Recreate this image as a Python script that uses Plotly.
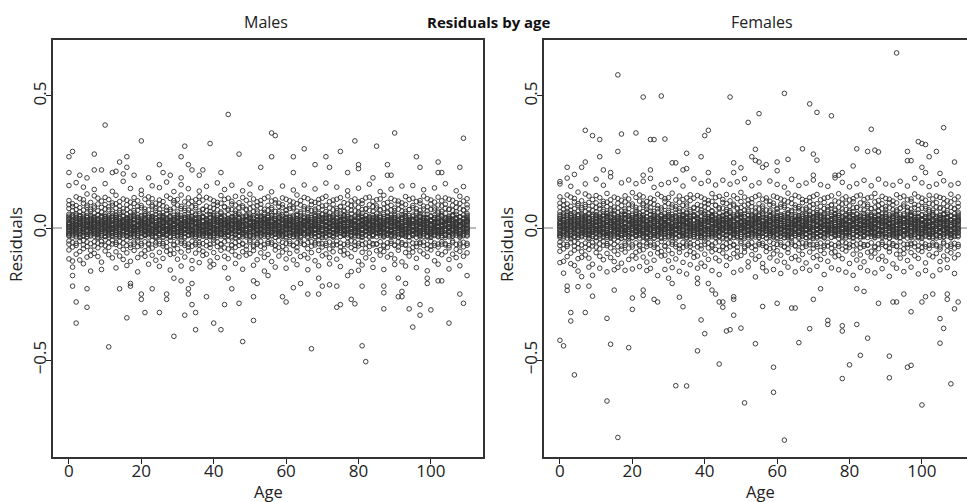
import plotly.graph_objects as go

# ---------------- data (residuals in thousandths, one string per age 0..110) ----------------
AGES = list(range(0, 111))

MALE_CORE = [
"12 -8 31 -22 45 3 -30 20 52 -61 74 -49 88 -83 104 -117 161",
"-3 25 -15 38 7 -27 49 16 -9 66 -55 81 -72 92 -125 -148",
"9 -19 28 -4 41 -33 18 54 -12 -58 70 -66 85 118 -99 172",
"1 16 -25 35 -11 47 24 -36 6 62 -50 77 -89 111 -121",
"-6 20 33 -18 44 10 -29 51 -2 -64 68 -47 94 -78 107 -135 155",
"14 -10 27 -24 40 4 -34 22 57 -53 79 -70 86 -110 129",
"5 -15 37 -7 29 -26 48 13 -1 71 -59 63 -84 97 -104 -163",
"-9 23 11 -31 42 2 -20 34 56 -52 83 -68 76 -96 122 146",
"17 -4 30 -23 50 8 -37 26 -13 -57 65 -75 91 -108 113",
"3 -21 24 -12 39 15 -28 46 -5 60 -63 78 -51 102 -129 -157",
"-7 19 36 -16 43 6 -32 27 53 -67 72 -45 89 -87 116 168",
"10 -11 22 -27 47 1 -35 32 -3 -55 69 -73 80 -101 108",
"-2 28 14 -19 38 -30 55 9 -14 64 -60 86 -48 95 -113 139",
"7 -24 33 -8 41 18 -26 49 -17 -62 75 -54 92 -90 124 -151",
"15 -6 26 -33 45 4 -21 37 58 -50 67 -69 83 -106 100",
"-10 21 31 -14 48 11 -38 24 2 73 -57 61 -81 110 -119 177",
"4 -17 39 -5 29 -29 52 16 -12 -66 70 -46 88 -94 105 -142",
"13 -2 23 -25 36 -35 46 7 -19 59 -64 79 -74 98 -126 150",
"-5 18 34 -10 44 -22 57 2 -31 -53 66 -61 93 -85 115",
"8 -13 27 -28 41 14 -37 50 -4 68 -49 82 -70 103 -112 -166",
"-1 25 12 -20 47 -32 35 20 -9 -59 77 -67 85 -98 127 143",
"16 -8 30 -15 38 5 -27 53 -23 62 -52 72 -86 109 -107",
"2 -20 41 -3 26 -34 49 19 -11 -63 69 -58 96 -80 118 -137",
"-8 14 32 -26 43 9 -18 28 55 -48 81 -76 87 -103 111 160",
"11 -5 22 -30 37 -13 51 3 -36 65 -56 74 -65 94 -122",
"-4 24 15 -21 45 -7 33 56 -29 -60 71 -50 90 -92 106 -145 153",
"6 -16 28 -9 40 21 -33 47 -1 58 -68 84 -59 100 -115",
"14 -3 36 -24 31 -12 54 8 -27 -54 67 -71 79 -88 121 174",
"-6 19 25 -17 44 1 -35 38 -10 70 -47 63 -83 112 -100 -159",
"9 -12 34 -2 29 -28 48 17 -20 -65 76 -62 95 -97 104 138",
"1 22 -14 40 -31 11 52 -7 27 61 -53 87 -78 108 -118",
"-9 16 29 -23 46 5 -16 35 -33 -58 73 -49 82 -91 125 -144 164",
"12 -1 24 -19 39 -37 50 14 -6 66 -66 75 -57 99 -110",
"-3 27 10 -29 42 -11 32 57 -24 -61 68 -72 92 -86 114 149",
"7 -18 37 -5 26 -25 45 20 -14 59 -50 80 -69 101 -123 -154",
"16 -7 21 -32 49 2 -22 33 53 -56 77 -63 85 -95 107",
"-2 23 31 -13 38 -27 55 6 -36 -64 64 -55 97 -82 119 -131 140",
"5 -15 26 -21 44 13 -30 41 -9 72 -59 70 -88 106 -104",
"-10 20 35 -4 28 -34 47 10 -18 -51 66 -67 83 -99 116 158",
"13 -9 23 -26 40 -15 51 3 -31 63 -62 78 -74 110 -125 -147",
"0 26 17 -18 45 -6 36 54 -28 -57 74 -46 89 -93 103 -138",
"8 -21 32 -10 30 22 -35 48 -3 69 -70 86 -53 97 -112 171",
"-5 14 38 -24 42 4 -19 27 56 -63 61 -60 94 -84 123",
"11 -4 20 -33 47 -12 33 16 -25 -52 79 -75 81 -107 108 -150 146",
"3 24 -16 36 -29 9 50 -8 28 67 -48 72 -79 113 -116",
"-7 17 29 -20 39 -1 -37 43 12 -66 70 -64 91 -88 101 162",
"15 -11 25 -27 46 6 -23 34 55 -55 65 -73 87 -102 120 -134",
"-1 21 13 -14 37 -32 52 19 -8 60 -51 76 -66 96 -109",
"6 -19 33 -6 27 -25 44 11 -17 -61 78 -58 84 -90 115 -156 141",
"12 -2 30 -28 41 -10 49 7 -34 71 -68 68 -81 105 -103",
"-4 23 16 -22 45 3 -30 35 53 -53 73 -47 93 -97 128 167",
"9 -13 38 -3 24 -36 47 18 -15 -65 62 -71 80 -85 110 -141",
"-8 27 20 -19 32 -11 56 1 -26 64 -56 85 -62 99 -120",
"14 -6 28 -31 43 8 -21 39 -1 -50 75 -69 90 -94 104 152",
"2 18 -12 35 -24 15 51 -9 30 59 -63 71 -76 112 -111 -163",
"-11 22 31 -16 40 -4 -33 46 10 -59 67 -52 86 -100 118",
"7 -17 24 -29 48 5 -18 27 57 70 -61 77 -54 102 -127 137",
"16 -1 36 -23 29 -35 44 12 -7 -67 63 -66 95 -83 107 -148",
"-3 25 9 -13 42 -27 53 21 -20 62 -48 82 -73 94 -106",
"4 -10 32 -25 38 14 -31 50 -4 -54 78 -70 88 -91 114 159",
"11 -22 19 -6 34 0 -37 28 55 66 -58 69 -80 109 -117 -152",
"-6 15 40 -18 45 -14 31 8 -28 -60 74 -51 84 -96 103",
"8 -8 23 -32 37 17 -24 48 -11 73 -65 79 -67 98 -121 144",
"-2 28 13 -21 47 2 -34 36 52 -56 64 -74 92 -87 125 -139",
"13 -14 26 -9 32 -29 54 6 -17 61 -49 87 -57 104 -108",
"1 20 -5 37 -26 10 45 -19 24 -63 72 -62 81 -101 116 163",
"-9 17 33 -15 41 -2 -36 29 58 68 -55 75 -78 111 -114 -158",
"10 -3 22 -27 47 8 -20 39 -10 -52 66 -69 89 -93 101",
"-5 24 16 -22 35 -33 49 14 -7 64 -64 71 -56 97 -124 148",
"6 -12 30 -4 43 -16 55 3 -30 -59 77 -48 94 -85 108 -143",
"15 -7 27 -30 38 11 -25 33 51 70 -60 83 -72 113 -105",
"-1 21 9 -18 46 -9 37 52 -35 -66 62 -58 86 -98 120 170",
"3 -15 35 -1 28 -24 44 18 -13 58 -53 76 -79 100 -112 -136",
"12 -5 24 -34 40 6 -28 49 -17 -61 69 -67 90 -90 106",
"-7 26 18 -12 36 -21 57 10 -3 65 -50 74 -63 109 -118 155",
"9 -19 29 -8 45 15 -32 31 53 -57 80 -71 82 -88 115 -146",
"-3 14 38 -25 33 -11 48 4 -23 62 -62 67 -84 96 -102",
"14 -2 21 -19 42 -36 50 22 -6 -64 73 -55 91 -97 122 141",
"0 23 11 -28 37 -4 30 54 -14 67 -49 85 -74 103 -109 -165",
"6 -13 34 -16 46 12 -27 27 -1 -53 65 -66 87 -81 110",
"-10 19 25 -2 39 -31 53 7 -21 60 -59 78 -68 99 -126 151",
"11 -9 32 -23 28 16 -35 45 56 -62 70 -47 93 -92 104 -140",
"4 27 -14 36 -26 1 47 -10 20 72 -57 73 -77 114 -113",
"-6 16 30 -7 43 -18 38 13 -30 -55 66 -70 88 -95 117 166",
"13 -4 22 -29 49 9 -24 35 -12 63 -64 81 -59 101 -120 -149",
"-2 20 37 -17 32 -3 54 24 -33 -60 76 -61 84 -86 107",
"7 -16 26 -11 41 18 -21 46 2 69 -52 68 -82 110 -103 138",
"15 -1 29 -26 36 -34 52 5 -15 -65 74 -68 92 -89 124 -157",
"-4 25 14 -20 44 -8 31 57 -27 61 -56 79 -73 97 -110",
"2 -12 35 -5 27 -28 48 19 -9 -58 68 -50 86 -100 112 147",
"10 -18 23 -30 40 7 -22 38 53 66 -66 75 -64 105 -117 -138",
"-8 17 31 -14 45 -1 -36 29 12 -52 71 -72 90 -84 102",
"5 -6 40 -24 34 15 -19 51 -10 64 -61 82 -55 95 -128 159",
"12 -21 21 -3 43 -32 55 9 -25 -63 63 -65 89 -93 119 -144",
"-1 28 17 -16 38 -12 47 22 -34 70 -48 70 -80 108 -106",
"8 -9 26 -27 49 3 -29 33 -6 -57 77 -74 85 -91 113 161",
"-5 22 33 -8 30 -23 56 12 -18 62 -58 73 -70 100 -115 -150",
"14 -14 24 -33 42 6 -26 44 54 -54 67 -60 94 -87 104",
"1 19 -11 37 -21 13 50 -4 28 -66 72 -53 83 -98 121 145",
"-7 24 15 -29 36 -15 39 52 -31 65 -63 80 -78 111 -108 -162",
"9 -3 30 -19 46 10 -35 27 -13 -50 70 -69 91 -83 106",
"3 -17 38 -7 25 -24 48 18 -2 68 -57 76 -66 98 -124 152",
"-9 21 20 -22 41 4 -30 34 57 -61 64 -72 87 -96 117 -137",
"11 -5 27 -12 44 -35 53 8 -20 63 -52 84 -61 103 -101",
"-3 26 12 -26 33 -9 37 55 -28 -59 75 -64 90 -90 114 168",
"6 -11 34 -1 29 19 -33 45 -16 71 -67 71 -75 109 -119 -155",
"16 -8 22 -31 47 1 -23 31 50 -55 66 -49 86 -99 105",
"-2 23 35 -15 39 -19 52 14 -8 62 -62 78 -81 96 -112 141",
"7 -20 28 -6 43 11 -27 40 -34 -64 73 -57 93 -88 120 -143",
"13 -1 18 -25 35 -13 49 23 -5 67 -54 69 -71 102 -107 157",
"-4 24 31 -18 42 3 -30 26 55 -58 76 -65 88 -94 111",
]

MALE_CENTER = [
"-14 6 22 -27 40 -5 15 33 -19 2", "9 -22 30 -1 18 -35 44 5 -12 26",
"-7 13 37 -25 3 21 -16 48 -3 11", "20 -10 8 -31 27 -2 43 14 -20 35",
"4 -17 29 -6 12 38 -28 -11 24 1", "-3 31 -24 16 7 -13 46 23 -33 10",
"17 -1 -19 34 9 -30 25 42 -8 3", "-12 5 28 -22 14 -4 39 19 -15 32",
"7 -26 21 -9 36 1 -18 47 12 -34", "-5 15 -29 24 -2 41 8 -14 30 19",
"13 -20 3 33 -10 22 -32 45 -1 9", "-16 28 6 -7 40 -23 16 -3 25 36",
"2 -13 19 -28 31 10 -21 44 -5 15", "-9 23 39 -15 4 -33 27 12 -2 48",
"21 -4 -24 11 35 -12 2 26 -30 17", "-1 8 -18 29 -27 43 14 -8 22 5",
"10 -31 24 -3 17 37 -16 6 -22 32", "-6 18 -11 41 1 -26 30 13 -35 23",
"15 -21 5 27 -14 -2 46 20 -9 34", "-11 3 32 -19 11 -29 24 -5 39 8",
"6 -15 21 -34 42 -7 16 28 -1 13", "-3 26 -23 9 35 -12 2 47 -28 19",
"18 -8 30 -2 -25 14 40 -17 5 23", "-13 11 -30 36 4 -6 25 -20 16 44",
"1 20 -16 7 -33 28 12 -10 38 -4", "12 -27 3 31 -9 19 -21 45 -2 26",
"-8 16 -36 22 10 -14 34 1 -24 41", "23 -5 13 -19 -28 37 6 -12 29 15",
"-2 30 -13 8 -31 17 43 -7 21 4", "8 -19 26 -4 14 -35 32 18 -10 39",
"-15 4 35 -23 19 -1 11 -29 46 24", "3 -11 17 29 -26 9 -3 38 -17 13",
"-6 24 -20 12 41 -32 5 20 -9 33", "14 -2 -27 22 7 -15 36 -8 27 1",
"-10 9 31 -30 16 -5 43 11 -21 25", "5 -24 14 -12 33 24 -1 -34 19 40",
"-18 27 2 -7 21 -25 11 37 -3 15", "11 -8 -30 39 -14 6 28 -22 45 1",
"-4 16 23 -17 9 34 -28 3 -10 29", "19 -13 7 -33 26 -1 40 15 -20 12",
"-9 2 32 -21 14 -6 24 -35 48 8", "6 -17 20 -2 38 -27 11 29 -12 22",
"-1 25 -11 13 -30 35 4 -19 18 44", "16 -22 9 27 -5 -14 42 1 -32 21",
"-12 7 36 -26 18 -3 13 -16 30 5", "2 -9 23 -31 42 10 -20 33 -6 17",
"-14 19 -1 30 -23 8 -36 24 14 46", "9 -28 16 -10 35 4 -15 27 -2 39",
"-7 12 -22 39 1 -33 21 -12 26 10", "18 -4 28 -18 7 -26 45 13 -9 31",
"-3 33 -15 10 -29 20 2 -7 40 23", "14 -24 6 25 -11 37 -2 -30 17 9",
"-10 8 30 -21 15 -5 43 19 -34 27", "4 -16 21 -3 34 -27 12 46 -8 16",
"-19 26 -7 11 38 -14 3 22 -31 32", "7 -1 18 -25 29 -33 41 9 -12 20",
"-5 14 -28 36 -9 23 1 -18 47 12", "21 -12 5 -2 27 -35 15 33 -23 8",
"-8 19 -17 31 3 -26 39 11 -4 24", "13 -30 22 -9 16 2 -14 44 28 -20",
"-2 10 -23 27 -11 36 5 -32 18 41", "17 -6 31 -19 9 -28 23 -1 38 14",
"-13 24 -3 15 -34 42 8 -21 29 3", "6 -25 19 -8 36 -13 1 26 -30 11",
"-4 12 -20 33 22 -35 45 -10 17 2", "15 -18 8 -1 28 -26 39 12 -7 21",
"-11 29 -14 4 -31 19 10 37 -22 25", "3 -7 24 -29 16 40 -17 7 -2 32",
"19 -21 11 30 -9 -1 43 -33 23 6", "-6 5 -27 20 35 -15 13 -3 27 47",
"10 -13 33 -22 2 25 -36 17 -8 38", "-16 22 -4 12 -30 41 6 -19 30 9",
"7 -28 18 -11 39 -2 21 4 -25 14", "-1 16 -20 34 -7 27 -33 45 11 23",
"22 -10 3 -24 13 37 -15 26 -4 8", "-9 31 -1 18 -32 9 24 -17 40 2",
"5 -15 27 -6 20 -28 46 12 -21 33", "-12 6 -26 29 14 -3 35 -9 21 43",
"16 -23 10 -14 38 1 -31 25 -5 19", "-3 24 -10 42 7 -19 15 -34 30 11",
"11 -5 20 -29 25 -16 3 36 -12 45", "-7 17 -32 9 31 -1 22 -22 40 14",
"20 -14 4 26 -8 -27 13 33 -2 48", "-10 30 -18 15 2 -35 37 -6 24 8",
"8 -2 28 -24 11 40 -13 19 -30 3", "-15 21 -5 34 -20 7 44 -9 16 27",
"4 -29 13 -12 30 22 -3 39 -18 10", "-4 11 -22 25 -31 36 1 -15 43 18",
"13 -19 7 -6 29 -26 20 32 -11 41", "-8 27 -14 3 39 -33 16 9 -23 23",
"17 -9 22 -30 6 12 -17 47 -1 30", "-2 15 -25 37 -10 26 4 -34 19 11",
"9 -21 33 -4 18 -15 41 2 -27 24", "-13 5 -3 28 -29 13 35 -18 22 46",
"22 -16 10 -8 31 -32 1 26 -6 15", "-6 32 -20 17 4 -24 43 -11 29 9",
"3 -12 25 -35 38 8 -4 20 -18 34", "-11 18 -27 6 23 -1 45 -21 14 30",
"15 -3 9 -22 35 -13 27 -31 40 5", "-5 29 -16 12 -34 21 2 37 -9 19",
"10 -24 31 -7 16 3 -19 25 -30 44", "-14 8 22 -2 40 -28 13 -10 33 18",
"7 -18 -6 27 11 -33 36 20 -12 2", "-9 24 -29 14 30 -15 5 -3 46 21",
"19 -1 12 -24 26 -8 39 -35 16 7", "-3 13 -17 35 -26 22 3 -12 29 41",
"12 -30 17 -5 33 -20 8 24 -10 45", "-7 21 -12 2 37 -27 15 -1 31 10",
"5 -23 28 -14 19 -34 43 11 -6 26", "-12 16 -4 32 -19 7 24 -29 38 1",
"20 -8 14 -26 10 -15 35 27 -2 48",
]

MALE_OUT_AGE = [10, 0, 1, 0, 7, 7, 20, 14, 16, 16, 12, 13, 15, 25, 26, 31, 32, 33, 34, 39,
                37, 44, 47, 42, 31, 56, 57, 56, 53, 65, 62, 68, 71, 72, 75, 79, 80, 80, 77, 85,
                90, 88, 88, 89, 96, 97, 102, 102, 103, 109, 108, 62, 84, 3, 5, 9, 18, 22, 28, 36,
                11, 2, 2, 5, 1, 1, 5, 16, 14, 17, 17, 20, 20, 21, 23, 25, 27, 27, 29, 29,
                31, 32, 33, 33, 34, 34, 35, 35, 38, 40, 42, 43, 45, 47, 48, 44, 51, 51, 51, 52,
                55, 59, 60, 62, 64, 66, 67, 69, 69, 70, 72, 74, 75, 74, 77, 78, 79, 81, 82, 81,
                80, 87, 87, 87, 91, 91, 92, 92, 93, 94, 95, 97, 97, 99, 99, 100, 102, 103, 105, 108,
                109, 110]
MALE_OUT_VAL = [0.39, 0.27, 0.29, 0.21, 0.28, 0.22, 0.33, 0.25, 0.27, 0.23, 0.21, 0.215, 0.205, 0.24, 0.21, 0.27, 0.31, 0.24, 0.22, 0.32,
                0.22, 0.43, 0.28, 0.21, 0.19, 0.36, 0.35, 0.27, 0.23, 0.30, 0.27, 0.24, 0.27, 0.23, 0.29, 0.33, 0.24, 0.225, 0.21, 0.31,
                0.36, 0.24, 0.20, 0.20, 0.27, 0.23, 0.25, 0.21, 0.21, 0.34, 0.23, 0.21, 0.19, 0.20, 0.19, 0.22, 0.20, 0.19, 0.20, 0.20,
                -0.45, -0.36, -0.28, -0.30, -0.22, -0.18, -0.23, -0.34, -0.23, -0.21, -0.22, -0.25, -0.27, -0.32, -0.23, -0.32, -0.25, -0.27, -0.41, -0.19,
                -0.20, -0.33, -0.23, -0.25, -0.21, -0.29, -0.32, -0.385, -0.26, -0.36, -0.385, -0.29, -0.23, -0.285, -0.43, -0.19, -0.35, -0.26, -0.20, -0.21,
                -0.18, -0.26, -0.28, -0.226, -0.21, -0.25, -0.457, -0.19, -0.25, -0.22, -0.215, -0.30, -0.29, -0.22, -0.18, -0.27, -0.287, -0.446, -0.506, -0.22,
                -0.16, -0.22, -0.245, -0.306, -0.19, -0.26, -0.24, -0.26, -0.21, -0.306, -0.375, -0.29, -0.33, -0.19, -0.21, -0.31, -0.20, -0.20, -0.36, -0.25,
                -0.285, -0.18]

FEMALE_CORE = [
"15 -9 34 -27 50 4 -35 22 61 -66 79 -54 94 -88 118 -131 176",
"-2 28 -18 43 9 -31 56 19 -12 72 -61 86 -79 104 -126 -171",
"10 -22 31 -5 47 -38 20 63 -14 -63 75 -70 91 125 -108 189",
"3 19 -28 40 -13 54 27 -40 7 68 -56 82 -95 117 -135 158",
"-7 24 37 -20 49 12 -33 58 -3 -69 73 -52 99 -84 112 -142 203",
"16 -11 30 -26 45 5 -37 25 64 -58 85 -76 92 -116 136 -163",
"6 -17 42 -8 33 -29 53 15 -2 77 -64 69 -90 103 -111 -184",
"-10 26 13 -34 47 2 -23 39 62 -57 89 -73 81 -102 129 167",
"19 -5 35 -25 57 9 -40 30 -15 -62 71 -81 97 -114 121 -148",
"4 -24 27 -13 44 17 -31 52 -6 66 -68 84 -55 108 -137 -179",
"-8 22 41 -18 48 7 -36 31 60 -72 78 -49 95 -93 123 185",
"12 -12 25 -30 53 1 -39 36 -4 -60 74 -79 86 -107 115 -152",
"-1 32 16 -21 43 -34 62 10 -16 70 -65 92 -52 101 -120 162",
"8 -27 37 -9 46 20 -29 56 -19 -67 81 -59 98 -96 131 -166",
"17 -6 29 -37 51 5 -24 42 65 -54 72 -75 89 -112 107 194",
"-11 24 35 -15 55 12 -42 27 3 79 -62 67 -87 117 -127 -158",
"5 -19 44 -5 33 -32 59 18 -13 -71 76 -50 94 -100 112 -149",
"14 -2 26 -28 40 -39 52 8 -21 64 -69 85 -80 105 -133 171",
"-5 20 38 -11 50 -24 63 2 -35 -57 72 -66 99 -91 122 -160",
"9 -14 31 -31 46 16 -41 57 -4 74 -53 88 -76 110 -119 182",
"-1 28 13 -22 53 -36 39 22 -10 -64 83 -72 91 -105 134 -155",
"18 -8 34 -16 43 6 -30 60 -25 68 -56 78 -92 116 -114 168",
"2 -22 46 -3 29 -38 55 21 -12 -68 75 -63 102 -86 125 -146",
"-9 15 36 -29 48 10 -20 32 62 -52 87 -82 93 -110 118 177",
"12 -5 25 -33 42 -14 58 3 -40 71 -60 80 -70 100 -129 -161",
"-4 27 17 -23 51 -7 37 64 -32 -65 77 -54 96 -98 113 -153 188",
"7 -18 32 -10 45 23 -37 53 -1 63 -73 90 -64 107 -122 154",
"16 -3 41 -26 35 -13 61 9 -30 -58 73 -77 85 -94 128 -180",
"-6 21 28 -19 50 1 -39 43 -11 76 -51 68 -89 119 -106 165",
"10 -13 38 -2 33 -31 55 19 -22 -70 82 -67 101 -103 111 -157",
"1 25 -15 45 -34 12 59 -7 30 66 -57 93 -84 115 -124 172",
"-10 18 33 -25 52 5 -17 40 -36 -62 79 -53 88 -97 132 -150",
"13 -1 27 -21 44 -41 57 15 -6 71 -71 81 -61 106 -117 183",
"-3 30 11 -32 48 -12 36 64 -26 -66 74 -78 98 -92 121 -164",
"8 -20 42 -5 29 -28 51 22 -15 64 -54 86 -74 108 -130 159",
"17 -7 24 -35 55 2 -24 37 60 -60 83 -68 91 -101 114 -174",
"-2 26 35 -14 43 -30 62 6 -39 -69 69 -59 104 -88 126 -139",
"5 -16 29 -23 50 14 -33 46 -9 78 -63 75 -94 113 -111 186",
"-11 22 40 -4 31 -37 53 11 -19 -55 71 -72 89 -106 123 -152",
"14 -10 26 -28 45 -16 58 3 -34 68 -67 84 -79 117 -133 169",
"0 29 19 -20 51 -6 41 61 -30 -61 80 -50 95 -99 110 -145",
"9 -23 36 -11 34 24 -38 54 -3 74 -75 92 -57 104 -119 178",
"-5 15 43 -26 47 4 -21 30 63 -68 66 -64 101 -90 130 -161",
"12 -4 22 -36 53 -13 37 17 -27 -56 85 -81 87 -114 115 163",
"3 27 -17 41 -32 10 57 -8 31 72 -52 77 -85 120 -124 -176",
"-7 19 33 -22 44 -1 -40 48 13 -71 75 -69 97 -95 108 181",
"16 -12 28 -29 52 6 -25 38 62 -59 70 -78 93 -109 127 -142",
"-1 23 14 -15 42 -35 59 20 -8 65 -55 82 -71 103 -116 166",
"6 -21 37 -6 30 -27 50 12 -18 -66 84 -62 90 -97 122 -168",
"13 -2 34 -31 46 -11 55 7 -37 76 -73 73 -87 112 -110 175",
"-4 25 18 -24 51 3 -33 39 60 -57 78 -51 100 -104 135 -159",
"10 -14 43 -3 27 -39 53 20 -16 -70 67 -76 86 -91 117 187",
"-8 30 22 -20 36 -12 63 1 -28 69 -60 91 -66 106 -128 -147",
"15 -6 31 -34 48 9 -23 44 -1 -54 81 -74 96 -101 111 160",
"2 20 -13 39 -26 16 57 -9 33 64 -68 76 -82 119 -118 -185",
"-12 24 35 -17 45 -4 -36 52 11 -63 72 -56 92 -107 125 171",
"7 -18 27 -31 54 5 -19 30 64 75 -66 83 -58 109 -134 -150",
"17 -1 40 -25 33 -38 49 13 -7 -72 68 -71 102 -89 114 -163",
"-3 28 10 -14 47 -29 60 23 -21 67 -52 88 -78 101 -113 178",
"4 -11 36 -27 42 15 -34 56 -4 -58 84 -75 94 -98 121 -157",
"12 -24 21 -6 38 0 -40 31 61 71 -62 74 -86 116 -125 165",
"-6 16 45 -19 50 -15 35 8 -30 -64 80 -55 90 -103 110 -172",
"9 -9 25 -35 41 18 -26 54 -12 78 -70 85 -72 105 -130 155",
"-2 31 14 -23 52 2 -37 40 58 -60 69 -79 99 -93 132 -148",
"14 -15 29 -10 35 -32 61 6 -18 66 -53 93 -61 111 -115 184",
"1 22 -5 42 -28 11 50 -20 27 -68 77 -67 87 -108 124 -166",
"-10 18 37 -16 46 -2 -39 32 63 73 -59 81 -84 118 -121 161",
"11 -3 24 -29 52 9 -22 44 -11 -56 71 -74 96 -100 108 -153",
"-5 27 17 -24 39 -36 55 15 -7 69 -69 76 -60 104 -132 170",
"6 -13 33 -4 48 -17 62 3 -33 -63 83 -52 101 -91 115 -160",
"16 -7 30 -33 42 12 -27 37 57 75 -64 89 -77 120 -112 182",
"-1 23 10 -20 51 -9 41 58 -38 -71 67 -62 92 -105 127 -145",
"3 -16 39 -1 31 -26 49 20 -14 62 -57 82 -85 107 -119 164",
"13 -5 26 -37 45 6 -30 55 -18 -66 74 -72 97 -96 113 -176",
"-7 29 19 -12 40 -22 64 11 -3 70 -54 80 -68 116 -126 158",
"10 -21 32 -8 50 16 -35 35 59 -61 86 -76 88 -94 122 -151",
"-3 15 43 -27 37 -11 54 4 -25 67 -67 72 -90 103 -109 190",
"15 -2 23 -20 47 -39 56 24 -6 -69 78 -59 98 -104 130 -158",
"0 25 12 -30 41 -4 34 60 -15 72 -53 91 -80 110 -116 173",
"7 -14 38 -17 52 13 -29 30 -1 -57 70 -71 94 -87 118 -167",
"-11 21 28 -2 43 -33 59 8 -23 65 -63 84 -73 106 -134 156",
"12 -9 35 -25 31 17 -38 50 62 -67 76 -51 100 -99 111 -179",
"4 30 -15 40 -28 1 53 -11 22 78 -61 78 -83 121 -121 168",
"-6 17 33 -7 48 -19 42 14 -32 -59 71 -75 95 -102 125 -149",
"14 -4 24 -31 55 10 -26 39 -13 68 -69 87 -63 108 -128 181",
"-2 22 41 -18 35 -3 60 26 -36 -64 82 -65 90 -92 114 -162",
"8 -17 29 -12 46 19 -23 51 2 74 -56 73 -88 117 -110 160",
"16 -1 32 -28 40 -37 58 5 -16 -70 79 -73 99 -95 131 -170",
"-4 28 15 -21 49 -8 34 63 -29 66 -60 85 -78 104 -118 185",
"2 -13 39 -5 30 -30 53 20 -9 -62 73 -54 92 -107 120 -154",
"11 -19 25 -32 44 7 -24 42 58 71 -71 81 -69 112 -125 167",
"-9 18 34 -15 50 -1 -39 32 13 -56 76 -77 96 -90 109 -183",
"5 -6 44 -26 37 16 -21 56 -11 69 -65 88 -59 102 -136 162",
"13 -23 23 -3 47 -35 61 10 -27 -68 68 -70 95 -99 126 -152",
"-1 31 18 -17 41 -13 52 24 -37 75 -52 75 -86 115 -114 177",
"9 -10 28 -29 54 3 -31 36 -6 -61 83 -79 91 -97 121 -165",
"-5 24 36 -8 33 -25 62 13 -19 67 -62 78 -75 107 -123 159",
"15 -15 26 -36 46 6 -28 48 59 -58 72 -64 101 -93 110 -148",
"1 21 -11 40 -23 14 55 -4 31 -71 77 -57 89 -105 129 188",
"-7 26 16 -31 39 -16 43 57 -34 70 -68 86 -83 118 -115 -174",
"10 -3 33 -20 50 11 -38 30 -14 -54 75 -74 97 -89 113 171",
"3 -18 42 -7 28 -26 53 19 -2 73 -61 81 -71 105 -132 -161",
"-10 23 22 -24 45 4 -32 37 62 -66 69 -77 93 -102 124 157",
"12 -5 30 -13 48 -38 58 8 -22 68 -56 90 -65 110 -109 -181",
"-3 29 13 -28 36 -9 41 60 -30 -63 80 -68 96 -96 121 166",
"6 -12 37 -1 32 20 -35 49 -17 76 -72 76 -80 116 -127 -158",
"17 -8 24 -34 51 1 -25 34 55 -59 71 -53 92 -106 112 179",
"-2 25 38 -16 43 -20 57 15 -8 66 -67 83 -86 103 -120 -150",
"7 -22 31 -6 47 12 -29 44 -36 -69 78 -61 99 -94 128 163",
"14 -1 20 -27 38 -14 54 25 -5 72 -58 74 -76 109 -113 -172",
"-4 26 34 -19 46 3 -33 28 60 -62 81 -70 94 -101 118 169",
]

FEMALE_CENTER = [
"-16 8 25 -30 44 -6 17 37 -21 3", "11 -25 33 -2 20 -38 49 6 -13 29",
"-8 15 41 -27 4 24 -18 53 -4 12", "23 -11 9 -34 30 -3 47 16 -22 39",
"5 -19 32 -7 14 42 -31 -12 27 1", "-4 35 -26 18 8 -15 51 26 -36 11",
"19 -2 -21 38 10 -33 28 46 -9 4", "-13 6 31 -24 16 -5 43 21 -17 36",
"8 -29 24 -10 40 1 -20 52 13 -37", "-6 17 -32 27 -3 45 9 -16 34 21",
"14 -22 4 37 -11 25 -35 50 -2 10", "-18 31 7 -8 44 -25 18 -4 28 40",
"2 -14 21 -31 35 11 -23 49 -6 17", "-10 26 43 -17 5 -36 30 13 -3 54",
"23 -5 -27 12 39 -13 3 29 -33 19", "-2 9 -20 32 -30 48 16 -9 25 6",
"11 -34 27 -4 19 41 -18 7 -24 36", "-7 20 -12 46 1 -29 34 14 -38 26",
"17 -23 6 30 -16 -2 51 22 -10 38", "-12 3 36 -21 12 -32 27 -6 44 9",
"7 -17 24 -37 47 -8 18 31 -1 15", "-3 29 -26 10 39 -14 2 52 -31 21",
"20 -9 34 -2 -28 16 45 -19 6 26", "-15 12 -33 40 4 -7 28 -22 18 49",
"1 22 -18 8 -36 31 13 -11 42 -5", "13 -30 3 35 -10 21 -24 50 -2 29",
"-9 18 -39 25 11 -16 38 1 -27 46", "26 -6 14 -21 -31 41 7 -13 33 17",
"-2 34 -15 9 -34 19 48 -8 24 4", "9 -21 29 -4 16 -38 36 20 -11 44",
"-17 5 39 -26 21 -1 12 -32 51 27", "3 -12 19 33 -29 10 -3 43 -19 15",
"-7 27 -22 13 46 -35 6 22 -10 37", "16 -2 -30 25 8 -17 40 -9 30 1",
"-11 10 35 -33 18 -5 48 12 -23 28", "6 -27 16 -13 37 27 -1 -38 21 45",
"-20 30 2 -8 24 -28 12 42 -3 17", "12 -9 -33 44 -16 7 31 -24 50 1",
"-4 18 26 -19 10 38 -31 3 -11 33", "21 -14 8 -36 29 -1 45 17 -22 13",
"-10 2 36 -23 16 -7 27 -38 53 9", "7 -19 22 -2 43 -30 12 33 -13 25",
"-1 28 -12 15 -33 40 4 -21 20 49", "18 -24 10 30 -6 -15 47 1 -35 24",
"-13 8 41 -29 20 -3 14 -18 34 6", "2 -10 26 -34 47 11 -22 37 -7 19",
"-15 21 -1 34 -25 9 -39 27 16 52", "10 -31 18 -11 39 4 -16 30 -2 44",
"-8 13 -24 44 1 -36 24 -13 29 11", "20 -4 31 -20 8 -29 50 15 -10 35",
"-3 37 -16 11 -32 22 2 -8 45 26", "16 -26 7 28 -12 42 -2 -33 19 10",
"-11 9 34 -23 17 -5 48 21 -37 30", "4 -18 23 -3 38 -30 13 51 -9 18",
"-21 29 -8 12 43 -15 3 25 -34 36", "8 -1 20 -27 32 -36 46 10 -13 22",
"-5 16 -31 40 -10 26 1 -20 53 13", "24 -13 6 -2 30 -38 17 37 -25 9",
"-9 21 -19 35 3 -29 44 12 -4 27", "14 -33 25 -10 18 2 -16 49 31 -22",
"-2 11 -25 30 -12 40 6 -35 20 46", "19 -7 35 -21 10 -31 26 -1 43 16",
"-14 27 -3 17 -37 47 9 -23 33 3", "7 -28 21 -9 40 -14 1 29 -33 12",
"-4 13 -22 37 25 -38 50 -11 19 2", "17 -20 9 -1 31 -29 44 13 -8 24",
"-12 32 -15 4 -34 21 11 41 -24 28", "3 -8 27 -32 18 45 -19 8 -2 36",
"21 -23 12 34 -10 -1 48 -36 26 7", "-7 5 -30 22 39 -17 15 -3 30 52",
"11 -14 37 -24 2 28 -39 19 -9 43", "-18 25 -4 13 -33 46 7 -21 34 10",
"8 -31 20 -12 44 -2 23 4 -27 16", "-1 18 -22 38 -8 30 -36 50 12 26",
"25 -11 3 -26 15 41 -16 29 -4 9", "-10 35 -1 20 -35 10 27 -19 45 2",
"5 -16 30 -6 22 -31 51 13 -23 37", "-13 7 -28 32 16 -3 39 -10 24 48",
"18 -25 11 -15 42 1 -34 28 -5 21", "-3 27 -11 47 8 -21 17 -37 33 12",
"12 -5 22 -32 28 -17 3 40 -13 50", "-8 19 -35 10 35 -1 25 -24 45 15",
"22 -15 4 29 -9 -30 14 37 -2 53", "-11 33 -20 17 2 -38 41 -6 27 9",
"9 -2 31 -26 12 45 -14 21 -33 3", "-16 23 -5 38 -22 8 49 -10 18 30",
"4 -32 14 -13 33 24 -3 43 -20 11", "-4 12 -24 28 -34 40 1 -16 48 20",
"14 -21 8 -6 32 -28 22 36 -12 46", "-9 30 -15 3 43 -36 18 10 -25 26",
"19 -10 25 -33 6 13 -18 52 -1 34", "-2 16 -27 41 -11 29 4 -37 21 12",
"10 -23 37 -4 20 -16 46 2 -30 27", "-14 5 -3 31 -32 14 39 -20 24 51",
"24 -17 11 -8 35 -35 1 29 -6 16", "-6 36 -22 19 4 -26 48 -12 32 10",
"3 -13 28 -38 42 9 -4 22 -19 38", "-12 20 -30 6 26 -1 50 -23 15 33",
"16 -3 10 -24 39 -14 30 -34 45 5", "-5 32 -17 13 -37 23 2 41 -10 21",
"11 -26 35 -7 18 3 -21 28 -33 49", "-15 9 24 -2 44 -31 14 -11 37 20",
"8 -20 -6 30 12 -36 40 22 -13 2", "-10 27 -32 15 33 -16 5 -3 51 23",
"21 -1 13 -26 29 -9 43 -38 18 7", "-3 14 -19 39 -29 24 3 -13 32 46",
"13 -33 19 -5 37 -22 9 27 -11 50", "-7 23 -13 2 41 -30 16 -1 35 11",
"5 -25 31 -15 21 -37 48 12 -6 29", "-13 18 -4 36 -21 8 27 -32 42 1",
"22 -9 15 -28 11 -16 39 30 -2 53",
]

FEMALE_OUT_AGE = [16, 23, 28, 7, 9, 11, 17, 21, 25, 26, 29, 16, 11, 7, 6, 2, 12, 14, 25, 23,
                  35, 39, 40, 41, 31, 32, 47, 48, 41, 34, 35, 62, 52, 55, 69, 71, 75, 86, 106, 48,
                  50, 54, 53, 54, 55, 56, 57, 60, 60, 63, 67, 70, 71, 70, 82, 85, 87, 88, 81, 96,
                  96, 97, 99, 100, 101, 100, 101, 102, 104, 105, 109, 76, 77, 78, 0, 93,
                  0, 1, 4, 3, 3, 7, 9, 5, 2, 2, 8, 13, 13, 14, 16, 15, 19, 20, 20, 23,
                  23, 26, 27, 30, 31, 33, 34, 32, 35, 38, 39, 38, 38, 40, 44, 45, 48, 46, 47, 48,
                  41, 42, 43, 44, 45, 51, 50, 48, 54, 56, 59, 59, 60, 62, 64, 65, 66, 69, 70, 72,
                  74, 74, 78, 78, 78, 80, 82, 83, 85, 84, 82, 88, 91, 91, 92, 93, 95, 96, 97, 97,
                  100, 100, 101, 103, 105, 106, 105, 108, 109, 107, 107, 110]
FEMALE_OUT_VAL = [0.58, 0.496, 0.50, 0.37, 0.35, 0.335, 0.356, 0.36, 0.335, 0.335, 0.337, 0.29, 0.27, 0.25, 0.23, 0.23, 0.22, 0.21, 0.22, 0.20,
                  0.283, 0.27, 0.35, 0.37, 0.247, 0.247, 0.496, 0.247, 0.21, 0.22, 0.225, 0.51, 0.40, 0.433, 0.47, 0.438, 0.425, 0.374, 0.38, 0.21,
                  0.228, 0.298, 0.27, 0.256, 0.25, 0.23, 0.24, 0.25, 0.217, 0.26, 0.30, 0.28, 0.257, 0.20, 0.30, 0.29, 0.295, 0.288, 0.235, 0.29,
                  0.255, 0.255, 0.327, 0.32, 0.316, 0.23, 0.21, 0.27, 0.29, 0.207, 0.25, 0.20, 0.20, 0.21, 0.167, 0.663,
                  -0.425, -0.446, -0.556, -0.32, -0.352, -0.32, -0.258, -0.222, -0.22, -0.236, -0.22, -0.655, -0.342, -0.44, -0.793, -0.235, -0.453, -0.265, -0.308, -0.235,
                  -0.255, -0.27, -0.28, -0.19, -0.21, -0.262, -0.298, -0.597, -0.598, -0.465, -0.348, -0.19, -0.21, -0.40, -0.515, -0.30, -0.27, -0.39, -0.385, -0.33,
                  -0.21, -0.235, -0.25, -0.28, -0.28, -0.662, -0.379, -0.26, -0.438, -0.297, -0.527, -0.622, -0.285, -0.803, -0.303, -0.303, -0.434, -0.381, -0.27, -0.23,
                  -0.35, -0.365, -0.37, -0.39, -0.57, -0.518, -0.365, -0.482, -0.417, -0.24, -0.23, -0.285, -0.485, -0.567, -0.28, -0.28, -0.25, -0.527, -0.52, -0.317,
                  -0.67, -0.28, -0.26, -0.25, -0.343, -0.38, -0.436, -0.59, -0.306, -0.25, -0.27, -0.28]

X_TICKS = [0, 20, 40, 60, 80, 100]
Y_TICKS = [-0.5, 0.0, 0.5]
Y_TICK_TEXT = ["\u22120.5", "0.0", "0.5"]
PANEL_TITLES = ["Males", "Females"]
MAIN_TITLE = "Residuals by age"


def expand(core, center, out_age, out_val):
    xs, ys = [], []
    for block in (core, center):
        for age, s in zip(AGES, block):
            for v in s.split():
                xs.append(age)
                ys.append(int(v) / 1000.0)
    xs.extend(out_age)
    ys.extend(out_val)
    return xs, ys


mx, my = expand(MALE_CORE, MALE_CENTER, MALE_OUT_AGE, MALE_OUT_VAL)
fx, fy = expand(FEMALE_CORE, FEMALE_CENTER, FEMALE_OUT_AGE, FEMALE_OUT_VAL)

W, H = 967, 502
FONT = "Open Sans"
PT_COLOR = "#363636"

marker = dict(symbol="circle-open", size=4.6, color=PT_COLOR, line=dict(width=0.95, color=PT_COLOR))

fig = go.Figure()
fig.add_trace(go.Scatter(x=mx, y=my, mode="markers", marker=marker, xaxis="x", yaxis="y",
                         showlegend=False, hoverinfo="skip"))
fig.add_trace(go.Scatter(x=fx, y=fy, mode="markers", marker=marker, xaxis="x2", yaxis="y2",
                         showlegend=False, hoverinfo="skip"))


def px_x(p):
    return p / W


def px_y(p):
    return 1 - p / H


YR = [-0.867, 0.712]
axis_common = dict(showgrid=False, zeroline=False, ticks="outside", ticklen=5, tickwidth=1,
                   tickcolor="#222", linecolor="#333", linewidth=1.6, showline=True,
                   tickfont=dict(family=FONT, size=17, color="#222"))

fig.update_layout(
    width=W, height=H,
    margin=dict(l=0, r=0, t=0, b=0),
    paper_bgcolor="white", plot_bgcolor="white",
    xaxis=dict(domain=[px_x(53), px_x(483)], range=[-4.4, 114.4], tickvals=X_TICKS,
               mirror=True, anchor="y", ticklabelstandoff=-7, **axis_common),
    yaxis=dict(domain=[px_y(457), px_y(40)], range=YR, tickvals=Y_TICKS, ticktext=Y_TICK_TEXT,
               tickangle=-90, mirror=True, anchor="x", ticklabelstandoff=-7, **axis_common),
    xaxis2=dict(domain=[px_x(544), 1.0], range=[-4.4, 112.45], tickvals=X_TICKS,
                mirror=True, anchor="y2", ticklabelstandoff=-7, **axis_common),
    yaxis2=dict(domain=[px_y(457), px_y(40)], range=YR, tickvals=Y_TICKS, ticktext=Y_TICK_TEXT,
                tickangle=-90, mirror=False, anchor="x2", ticklabelstandoff=-7, **axis_common),
)

for xr, yr in (("x domain", "y"), ("x2 domain", "y2")):
    fig.add_shape(type="line", xref=xr, yref=yr, x0=0, x1=1, y0=0, y1=0,
                  line=dict(color="#555", width=0.8, dash="dash"), layer="below")

ann_font = dict(family=FONT, size=17, color="#222")
annotations = [
    dict(text=PANEL_TITLES[0], x=px_x(266), y=px_y(22), font=dict(family=FONT, size=16, color="#222")),
    dict(text=PANEL_TITLES[1], x=px_x(762), y=px_y(22), font=dict(family=FONT, size=16, color="#222")),
    dict(text="<b>" + MAIN_TITLE + "</b>", x=px_x(489), y=px_y(22), font=dict(family=FONT, size=15, color="#111")),
    dict(text="Residuals", x=px_x(15), y=px_y(245), textangle=-90, font=ann_font),
    dict(text="Residuals", x=px_x(506), y=px_y(245), textangle=-90, font=ann_font),
    dict(text="Age", x=px_x(268), y=px_y(491), font=dict(family=FONT, size=16.5, color="#222")),
    dict(text="Age", x=px_x(760), y=px_y(491), font=dict(family=FONT, size=16.5, color="#222")),
]
for a in annotations:
    fig.add_annotation(xref="paper", yref="paper", showarrow=False, xanchor="center",
                       yanchor="middle", **a)

fig.write_html("out.html")
